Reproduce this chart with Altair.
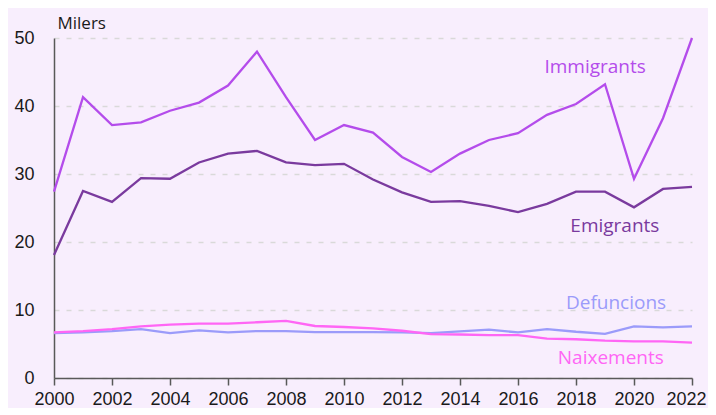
import altair as alt
import pandas as pd

years = list(range(2000, 2023))
immigrants = [27.4, 41.3, 37.2, 37.6, 39.3, 40.5, 43.0, 48.0, 41.3, 35.0, 37.2, 36.1,
              32.5, 30.3, 33.0, 35.0, 36.0, 38.7, 40.3, 43.2, 29.3, 38.2, 50.0]
emigrants = [18.1, 27.5, 25.9, 29.4, 29.3, 31.7, 33.0, 33.4, 31.7, 31.3, 31.5, 29.2,
             27.3, 25.9, 26.0, 25.3, 24.4, 25.6, 27.4, 27.4, 25.1, 27.8, 28.1]
defuncions = [6.6, 6.7, 6.9, 7.2, 6.6, 7.0, 6.7, 6.9, 6.9, 6.75, 6.75, 6.75,
              6.7, 6.6, 6.85, 7.1, 6.7, 7.2, 6.8, 6.5, 7.6, 7.45, 7.6]
naixements = [6.7, 6.9, 7.2, 7.6, 7.85, 8.0, 8.0, 8.2, 8.4, 7.65, 7.5, 7.3,
              6.95, 6.45, 6.4, 6.3, 6.3, 5.8, 5.7, 5.5, 5.4, 5.4, 5.2]

series_names = ["Immigrants", "Emigrants", "Defuncions", "Naixements"]
series_colors = ["#B44CEB", "#7A3A9E", "#9B9BFA", "#FF66F5"]

label_x = [2018.66, 2019.34, 2019.38, 2019.2]
label_y = [45.7, 22.35, 11.0, 2.9]

rows = []
for name, vals in zip(series_names, [immigrants, emigrants, defuncions, naixements]):
    for yr, v in zip(years, vals):
        rows.append({"any": yr, "serie": name, "valor": v})
df = pd.DataFrame(rows)
labels = pd.DataFrame({"serie": series_names, "any": label_x, "valor": label_y})

color = alt.Color("serie:N", scale=alt.Scale(domain=series_names, range=series_colors), legend=None)

x = alt.X("any:Q", scale=alt.Scale(domain=[2000, 2022], nice=False, zero=False),
          axis=alt.Axis(values=years, format="d",
                        labelExpr="datum.value % 2 == 0 ? datum.label : ''",
                        title=None, grid=False, tickSize=7, tickColor="#595959",
                        tickWidth=1.5, domainColor="#595959", domainWidth=1.5,
                        labelFont="Liberation Sans", labelFontSize=18, labelFlush=False,
                        labelAlign={"condition": {"test": "datum.value == 2022", "value": "right"},
                                    "value": "center"},
                        labelOffset={"condition": {"test": "datum.value == 2022", "value": 14},
                                     "value": 0},
                        labelColor="#1a1a1a", labelPadding=5, labelOverlap=False))
y = alt.Y("valor:Q", scale=alt.Scale(domain=[0, 50], nice=False),
          axis=alt.Axis(values=[0, 10, 20, 30, 40, 50], title="Milers", titleAngle=0,
                        titleAlign="left", titleBaseline="alphabetic", titleX=3, titleY=-10,
                        titleFont="Open Sans", titleFontSize=17, titleFontWeight="normal",
                        titleColor="#1a1a1a",
                        grid=True, gridDash=[5, 7], gridColor="#d9d9d9", gridWidth=1.5,
                        ticks=False, domainColor="#595959", domainWidth=1.5,
                        labelFont="Liberation Sans", labelFontSize=18,
                        labelColor="#1a1a1a", labelPadding=20))

lines = alt.Chart(df).mark_line(strokeWidth=2.3).encode(x=x, y=y, color=color, detail="serie:N")

text = alt.Chart(labels).mark_text(font="Open Sans", fontSize=19, align="center",
                                   baseline="middle").encode(
    x=alt.X("any:Q"), y=alt.Y("valor:Q"), text="serie:N", color=color)

chart = alt.layer(lines, text).properties(
    width=638, height=340, background="#F8EEFD",
    padding={"left": 46, "top": 30, "right": 16, "bottom": 30},
    autosize=alt.AutoSizeParams(type="none"),
).configure_view(stroke=None)

chart.save("out.html", embed_options={"renderer": "svg", "actions": False})
